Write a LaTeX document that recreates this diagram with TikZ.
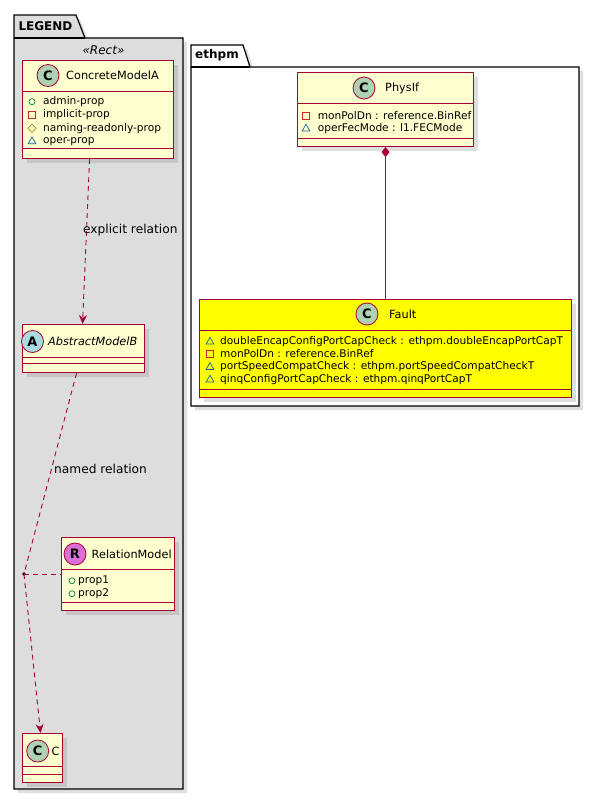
\documentclass[tikz,border=0pt]{standalone}
\usepackage{fontspec}
\setmainfont{DejaVu Sans}
\setsansfont{DejaVu Sans}
\usetikzlibrary{shadows,arrows.meta,shapes.geometric}
\definecolor{umlred}{HTML}{A80036}
\definecolor{umlfill}{HTML}{FEFECE}
\definecolor{faultyellow}{HTML}{FFFF00}
\definecolor{legendgray}{HTML}{DDDDDD}
\definecolor{circC}{HTML}{ADD1B2}
\definecolor{circA}{HTML}{A9DCDF}
\definecolor{circR}{HTML}{DA70D6}
\definecolor{pubgreen}{HTML}{038048}
\definecolor{privred}{HTML}{C82930}
\definecolor{protgold}{HTML}{B38D22}
\definecolor{pkgblue}{HTML}{1963A0}

\begin{document}
\begin{tikzpicture}[x=1pt, y=-1pt, font=\sffamily,
    umlshadow/.style={drop shadow={shadow xshift=4pt, shadow yshift=-4pt, opacity=.25}},
    pkg/.style={draw=black, line width=1.2pt, umlshadow},
    pkgtitle/.style={font=\sffamily\bfseries\fontsize{12}{14}\selectfont, inner sep=0pt},
    classbox/.style={draw=umlred, line width=1.1pt, fill=umlfill, anchor=north west, inner sep=0pt, umlshadow},
    sep/.style={draw=umlred, line width=1pt},
    spot/.style={circle, draw=umlred, line width=.8pt, minimum size=22pt, inner sep=0pt,
      font=\sffamily\bfseries\fontsize{13}{13}\selectfont},
    cname/.style={anchor=west, inner sep=0pt, font=\sffamily\fontsize{11.3}{13}\selectfont},
    attr/.style={anchor=west, inner sep=0pt, font=\sffamily\fontsize{10.6}{12}\selectfont},
    rellabel/.style={anchor=west, inner sep=0pt, font=\sffamily\fontsize{12.2}{14}\selectfont},
    relation/.style={draw=umlred, line width=.9pt, dash pattern=on 5pt off 4pt},
    pubicon/.style={circle, draw=pubgreen, line width=.7pt, minimum size=6pt, inner sep=0pt},
    privicon/.style={rectangle, draw=privred, line width=.7pt, minimum size=6.5pt, inner sep=0pt},
    proticon/.style={diamond, draw=protgold, line width=.7pt, minimum size=8.5pt, inner sep=0pt},
    pkgicon/.style={regular polygon, regular polygon sides=3, draw=pkgblue, line width=.7pt, minimum size=9pt, inner sep=0pt},
  ]
    \useasboundingbox (0,0) rectangle (600,801);

    % LEGEND package
    \draw[pkg, fill=legendgray] (14,15) -- (76,15) -- (85,38) -- (183,38) -- (183,789) -- (14,789) -- cycle;
    \draw[line width=1.2pt] (14,38) -- (85,38);
    \node[pkgtitle] (legend title) at (45.5,26) {LEGEND};
    \node[inner sep=0pt, font=\sffamily\itshape\fontsize{12}{14}\selectfont] (rect stereo) at (103.5,50) {«Rect»};

    % ethpm package
    \draw[pkg, fill=white] (191,45) -- (243,45) -- (250,67) -- (579,67) -- (579,406) -- (191,406) -- cycle;
    \draw[line width=1.2pt] (191,67) -- (250,67);
    \node[pkgtitle] (ethpm title) at (217,55.5) {ethpm};

    % ConcreteModelA
    \node[classbox, minimum width=151pt, minimum height=98pt] (concrete model) at (22,60) {};
    \draw[sep] (concrete model.west |- 0,91) -- (concrete model.east |- 0,91);
    \draw[sep] (concrete model.west |- 0,148) -- (concrete model.east |- 0,148);
    \node[spot, fill=circC] (concrete spot) at (48,75.5) {C};
    \node[cname] (concrete name) at (66,75.5) {ConcreteModelA};
    \node[pubicon] (admin icon) at (32,101.7) {};
    \node[attr] (admin prop) at (43,101.7) {admin-prop};
    \node[privicon] (implicit icon) at (32,115) {};
    \node[attr] (implicit prop) at (43,115) {implicit-prop};
    \node[proticon] (naming icon) at (32,128.2) {};
    \node[attr] (naming prop) at (43,128.2) {naming-readonly-prop};
    \node[pkgicon] (oper icon) at (32,141.5) {};
    \node[attr] (oper prop) at (43,141.3) {oper-prop};

    % AbstractModelB
    \node[classbox, minimum width=122pt, minimum height=48pt] (abstract model) at (22,324) {};
    \draw[sep] (abstract model.west |- 0,357) -- (abstract model.east |- 0,357);
    \draw[sep] (abstract model.west |- 0,363) -- (abstract model.east |- 0,363);
    \node[spot, fill=circA] (abstract spot) at (32.5,341.5) {A};
    \node[cname, font=\sffamily\itshape\fontsize{11.3}{13}\selectfont] (abstract name) at (48,341.5) {AbstractModelB};

    % RelationModel
    \node[classbox, minimum width=113pt, minimum height=73pt] (relation model) at (61,537) {};
    \draw[sep] (relation model.west |- 0,569) -- (relation model.east |- 0,569);
    \draw[sep] (relation model.west |- 0,602) -- (relation model.east |- 0,602);
    \node[spot, fill=circR] (relation spot) at (75,554) {R};
    \node[cname] (relation name) at (91.5,554) {RelationModel};
    \node[pubicon] (prop1 icon) at (72,580.7) {};
    \node[attr] (prop1) at (78,580.7) {prop1};
    \node[pubicon] (prop2 icon) at (72,593.7) {};
    \node[attr] (prop2) at (78,593.7) {prop2};

    % C
    \node[classbox, minimum width=40pt, minimum height=49pt] (c model) at (22,733) {};
    \draw[sep] (c model.west |- 0,766) -- (c model.east |- 0,766);
    \draw[sep] (c model.west |- 0,774) -- (c model.east |- 0,774);
    \node[spot, fill=circC] (c spot) at (37.7,751) {C};
    \node[cname] (c name) at (51.5,751) {C};

    % PhysIf
    \node[classbox, minimum width=176pt, minimum height=74pt] (physif) at (297,72) {};
    \draw[sep] (physif.west |- 0,103) -- (physif.east |- 0,103);
    \draw[sep] (physif.west |- 0,138) -- (physif.east |- 0,138);
    \node[spot, fill=circC] (physif spot) at (364,88) {C};
    \node[cname] (physif name) at (385,88) {PhysIf};
    \node[privicon] (physif mon icon) at (306,116) {};
    \node[attr] (physif mon) at (317.7,116) {monPolDn : reference.BinRef};
    \node[pkgicon] (physif fec icon) at (306,128.8) {};
    \node[attr] (physif fec) at (317.7,128.3) {operFecMode : l1.FECMode};

    % Fault
    \node[classbox, fill=faultyellow, minimum width=372pt, minimum height=98pt] (fault) at (199,299) {};
    \draw[sep] (fault.west |- 0,330) -- (fault.east |- 0,330);
    \draw[sep] (fault.west |- 0,389) -- (fault.east |- 0,389);
    \node[spot, fill=circC] (fault spot) at (367,314) {C};
    \node[cname] (fault name) at (389,314) {Fault};
    \node[pkgicon] (encap icon) at (210,341.8) {};
    \node[attr] (encap check) at (220,341.3) {doubleEncapConfigPortCapCheck : ethpm.doubleEncapPortCapT};
    \node[privicon] (fault mon icon) at (210,354) {};
    \node[attr] (fault mon) at (220,354) {monPolDn : reference.BinRef};
    \node[pkgicon] (speed icon) at (210,367.2) {};
    \node[attr] (speed check) at (220,366.7) {portSpeedCompatCheck : ethpm.portSpeedCompatCheckT};
    \node[pkgicon] (qinq icon) at (210,379.8) {};
    \node[attr] (qinq check) at (220,379.3) {qinqConfigPortCapCheck : ethpm.qinqPortCapT};

    % relations
    \draw[relation, -{Stealth[length=9pt, width=8pt, inset=3pt]}] ([xshift=-8.5pt]concrete model.south) -- ([xshift=-1pt]abstract model.north);
    \node[rellabel] (explicit label) at (83,230) {explicit relation};

    \coordinate (relation dot) at (24,574);
    \fill (relation dot) circle (1.8);
    \draw[relation] ([xshift=-7pt]abstract model.south) -- (relation dot);
    \draw[relation, -{Stealth[length=9pt, width=8pt, inset=3pt]}] (relation dot) -- ([xshift=-2pt]c model.north);
    \draw[relation] (relation dot) -- (relation dot -| relation model.west);
    \node[rellabel] (named label) at (54,469) {named relation};

    \draw[draw=umlred, line width=.9pt, {Diamond[length=10pt, width=8pt, fill=umlred]}-] (physif.south) -- (fault.north);
  \end{tikzpicture}
\end{document}
